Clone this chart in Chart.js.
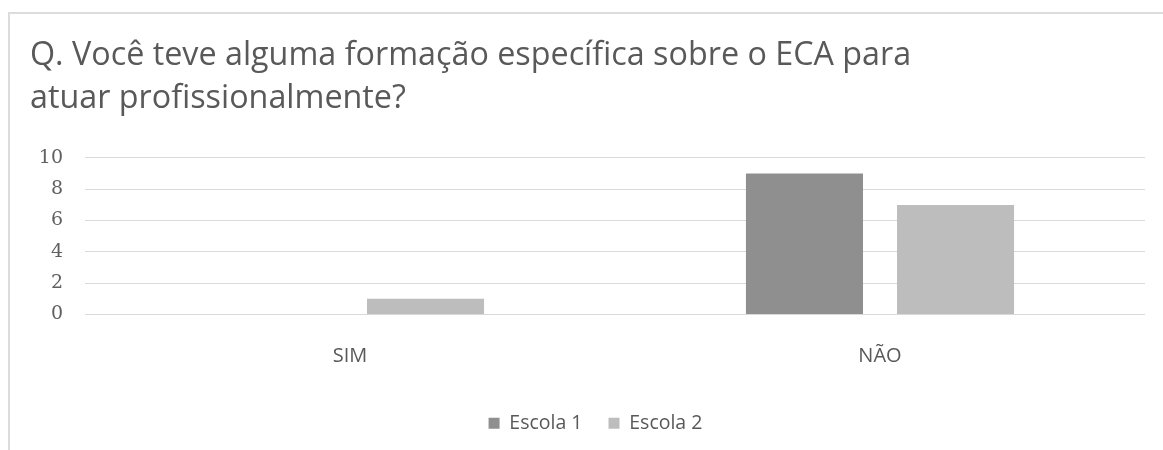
<!DOCTYPE html>
<html>
<head>
<meta charset="utf-8">
<script src="https://cdn.jsdelivr.net/npm/chart.js"></script>
<style>
  body { margin: 0; background: #fff; }
  #frame {
    position: absolute; left: 8px; top: 12px;
    width: 1155px; height: 438px;
    border-left: 2px solid #dcdcdc; border-top: 2px solid #dcdcdc;
  }
  #frame canvas { display: block; }
</style>
</head>
<body>
<div id="frame"><canvas id="ecaChart" width="1153" height="436"></canvas></div>
<script>
const categories = ['SIM', 'NÃO'];
const escola1 = [0, 9];
const escola2 = [1, 7];
const yTicks = [0, 2, 4, 6, 8, 10];

const textGray = '#595959';

// the legend sits a little right of the canvas centre in the original
const legendShift = {
    id: 'legendShift',
    afterLayout(chart) {
        chart.legend.left += 8;
        chart.legend.right += 8;
    }
};

const ecaChart = new Chart(document.getElementById('ecaChart').getContext('2d'), {
    type: 'bar',
    data: {
        labels: categories,
        datasets: [
            {
                label: 'Escola 1',
                data: escola1,
                backgroundColor: '#8f8f8f',
                categoryPercentage: 0.57,
                barPercentage: 0.775
            },
            {
                label: 'Escola 2',
                data: escola2,
                backgroundColor: '#bdbdbd',
                categoryPercentage: 0.57,
                barPercentage: 0.775
            }
        ]
    },
    options: {
        responsive: false,
        animation: false,
        layout: {
            padding: { left: 20, right: 18, top: 0, bottom: 7 }
        },
        scales: {
            y: {
                min: 0,
                max: 10,
                afterBuildTicks: function(scale) {
                    scale.ticks = yTicks.map(v => ({ value: v }));
                },
                afterFit: function(scale) {
                    scale.width = 55;
                },
                border: { display: false },
                ticks: {
                    color: '#606060',
                    padding: 22,
                    font: { family: 'DejaVu Serif', size: 19 }
                },
                grid: {
                    color: '#d9d9d9',
                    drawTicks: false
                }
            },
            x: {
                afterFit: function(scale) {
                    scale.height = 73;
                },
                border: { display: false },
                grid: { display: false },
                ticks: {
                    color: textGray,
                    padding: 22,
                    font: { family: 'Open Sans', size: 20 }
                }
            }
        },
        plugins: {
            title: {
                display: true,
                text: ['Q. Você teve alguma formação específica sobre o ECA para', 'atuar profissionalmente?'],
                align: 'start',
                color: textGray,
                font: { family: 'Open Sans', size: 32.3, weight: 'normal', lineHeight: 1.33 },
                padding: { top: 20, bottom: 38 }
            },
            legend: {
                position: 'bottom',
                labels: {
                    color: textGray,
                    boxWidth: 11,
                    boxHeight: 11,
                    padding: 26,
                    font: { family: 'Open Sans', size: 19.5 }
                }
            },
            tooltip: { enabled: false }
        }
    },
    plugins: [legendShift]
});
</script>
</body>
</html>
